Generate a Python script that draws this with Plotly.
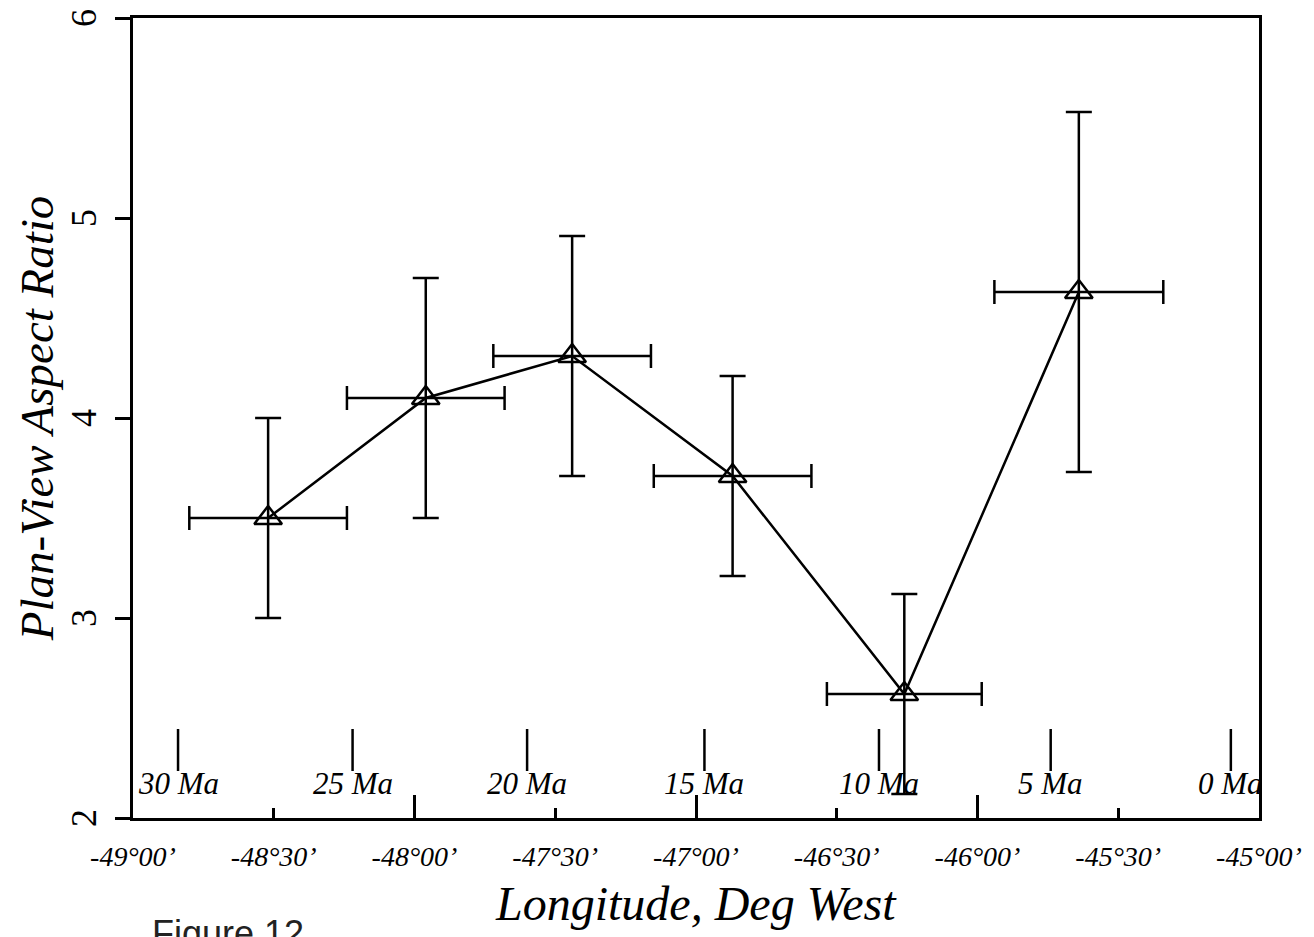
import plotly.graph_objects as go

# Plan-view aspect ratio vs longitude (with age scale along the bottom)
lon = [-48.52, -47.96, -47.44, -46.87, -46.26, -45.64]
ratio = [3.50, 4.10, 4.31, 3.71, 2.62, 4.63]
ratio_err = [0.50, 0.60, 0.60, 0.50, 0.50, 0.90]
lon_err = [0.28, 0.28, 0.28, 0.28, 0.275, 0.30]

lon_ticks = [-49.0, -48.5, -48.0, -47.5, -47.0, -46.5, -46.0, -45.5, -45.0]
lon_labels = ["-49°00’", "-48°30’", "-48°00’", "-47°30’", "-47°00’",
              "-46°30’", "-46°00’", "-45°30’", "-45°00’"]
lon_major = [-49.0, -48.0, -47.0, -46.0, -45.0]

ages = ["30 Ma", "25 Ma", "20 Ma", "15 Ma", "10 Ma", "5 Ma", "0 Ma"]
age_lon = [-48.84, -48.22, -47.60, -46.97, -46.35, -45.74, -45.10]

y_ticks = [2, 3, 4, 5, 6]

SERIF = "Liberation Serif"
INK = "black"

fig = go.Figure()

# main series with error bars
fig.add_trace(go.Scatter(
    x=lon, y=ratio,
    mode="lines+markers",
    line=dict(color=INK, width=2.5),
    marker=dict(symbol="triangle-up-open", size=24, color=INK,
                line=dict(color=INK, width=2.5)),
    error_y=dict(type="data", array=ratio_err, color=INK, thickness=2.5, width=13),
    error_x=dict(type="data", array=lon_err, color=INK, thickness=2.5, width=12),
    showlegend=False,
))

# age tick marks (on the overlay axis that carries the long degree ticks)
fig.add_trace(go.Scatter(
    x=age_lon, y=[2.34] * len(age_lon),
    xaxis="x2",
    mode="markers",
    marker=dict(symbol="line-ns", size=30, line=dict(color=INK, width=2.5)),
    showlegend=False, hoverinfo="skip",
))

for a, x in zip(ages, age_lon):
    fig.add_annotation(
        x=x, y=2.174, xref="x", yref="y",
        text=a, showarrow=False,
        font=dict(family=SERIF, size=31, color=INK, style="italic"),
    )

# rotated y tick labels (plotly drops the top one when it sits at the edge)
for v in y_ticks:
    fig.add_annotation(
        x=0, y=v, xref="paper", yref="y",
        text=str(v), showarrow=False, textangle=-90,
        xanchor="center", yanchor="middle", xshift=-49,
        font=dict(family=SERIF, size=36, color=INK),
    )

# axis titles
fig.add_annotation(
    x=0.5, y=-0.107, xref="paper", yref="paper",
    text="Longitude, Deg West", showarrow=False,
    xanchor="center", yanchor="middle",
    font=dict(family=SERIF, size=48, color=INK, style="italic"),
)
fig.add_annotation(
    x=-0.085, y=0.5, xref="paper", yref="paper",
    text="Plan-View Aspect Ratio", showarrow=False, textangle=-90,
    xanchor="center", yanchor="middle",
    font=dict(family=SERIF, size=47, color=INK, style="italic"),
)

# handwritten figure number, cut off by the page edge
fig.add_annotation(
    x=0.015, y=-0.116, xref="paper", yref="paper",
    text="Figure 12", showarrow=False,
    xanchor="left", yanchor="top",
    font=dict(family="Liberation Sans", size=36, color="#222"),
)

# the page adds an 8px body margin, so the figure is 8px smaller each way
fig.update_layout(
    width=1306, height=929,
    margin=dict(l=125, r=55, t=7, b=119),
    paper_bgcolor="white", plot_bgcolor="white",
    xaxis=dict(
        range=[-49, -45],
        tickvals=lon_ticks, ticktext=lon_labels,
        ticks="inside", ticklen=10, tickwidth=2.5, tickcolor=INK,
        tickfont=dict(family=SERIF, size=28, color=INK, style="italic"),
        ticklabelstandoff=12,
        showline=True, linecolor=INK, linewidth=2.5, mirror=True,
        showgrid=False, zeroline=False,
    ),
    xaxis2=dict(
        overlaying="x", matches="x", anchor="y", side="bottom",
        range=[-49, -45],
        tickvals=lon_major,
        ticks="inside", ticklen=23, tickwidth=2.5, tickcolor=INK,
        showticklabels=False, showline=False, showgrid=False, zeroline=False,
    ),
    yaxis=dict(
        range=[2, 6],
        tickvals=y_ticks,
        ticks="outside", ticklen=15, tickwidth=2.5, tickcolor=INK,
        showticklabels=False,
        showline=True, linecolor=INK, linewidth=2.5, mirror=True,
        showgrid=False, zeroline=False,
    ),
)

fig.write_html("out.html")
